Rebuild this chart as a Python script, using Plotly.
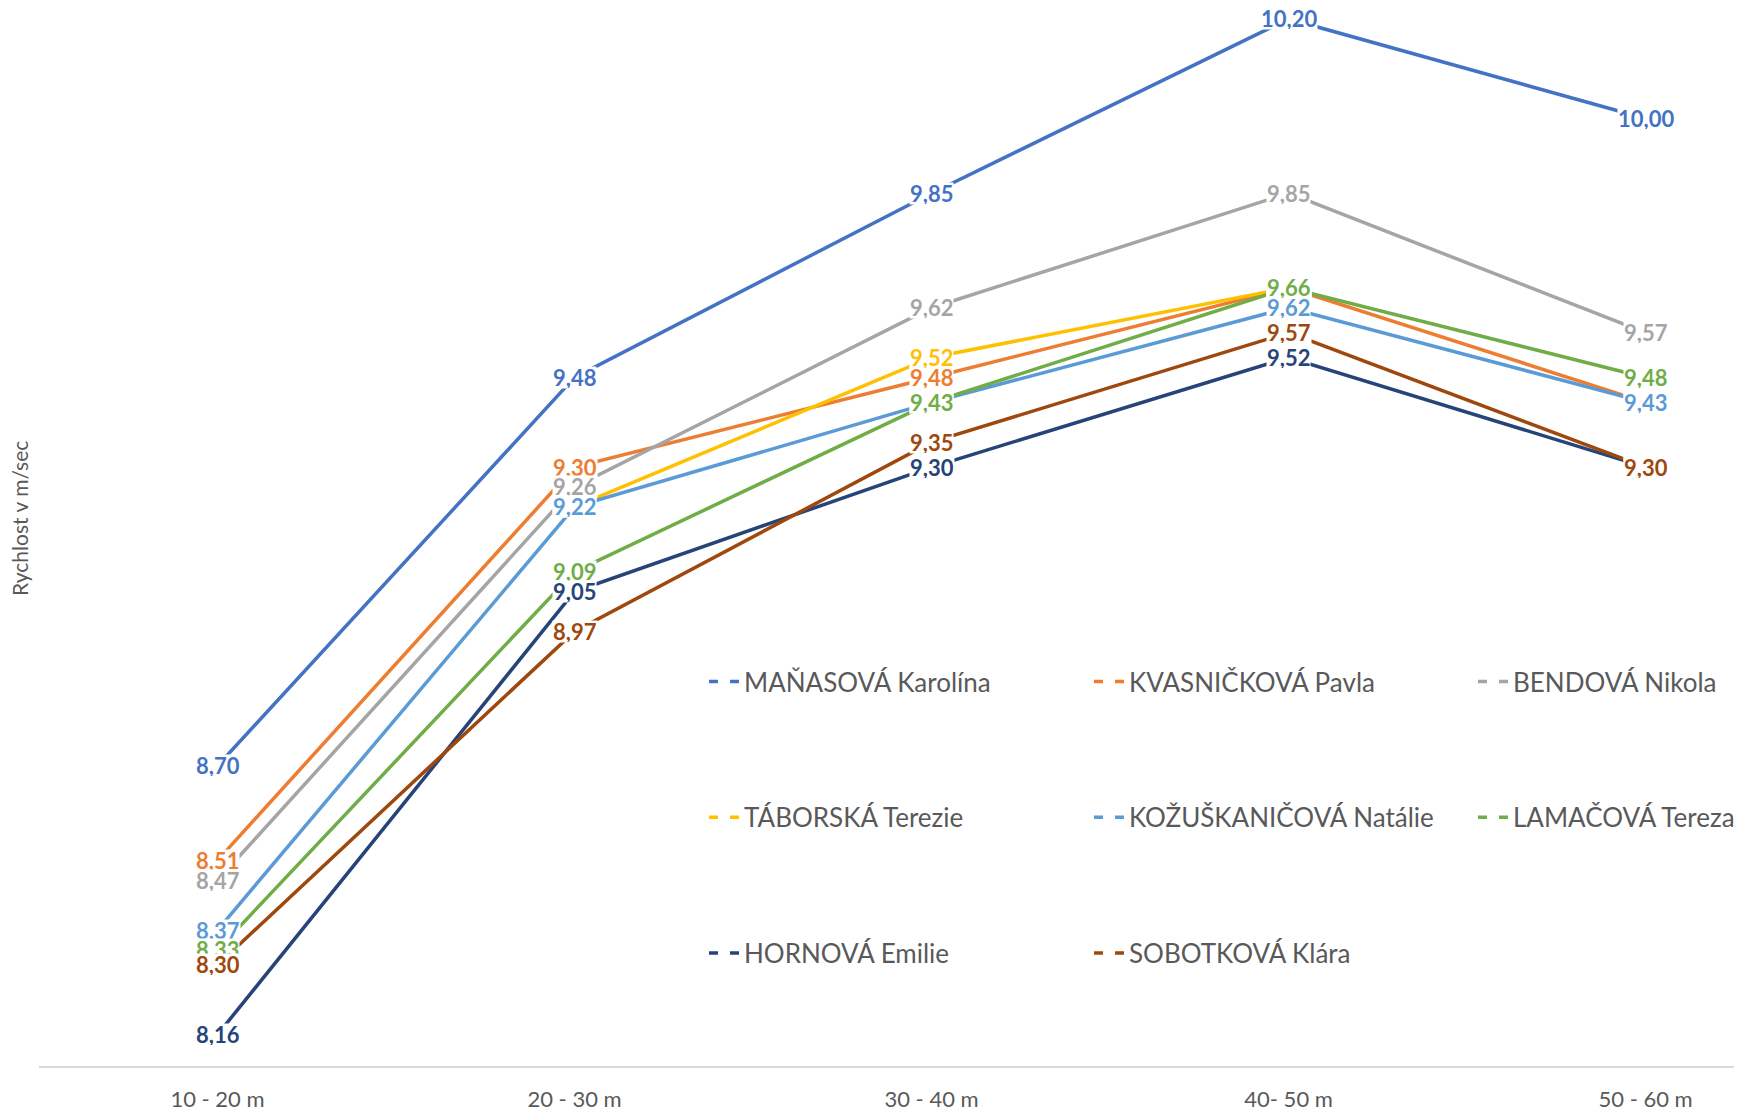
import plotly.graph_objects as go

categories = ["10 - 20 m", "20 - 30 m", "30 - 40 m", "40- 50 m", "50 - 60 m"]

names = [
    "MAŇASOVÁ Karolína",
    "KVASNIČKOVÁ Pavla",
    "BENDOVÁ Nikola",
    "TÁBORSKÁ Terezie",
    "KOŽUŠKANIČOVÁ Natálie",
    "LAMAČOVÁ Tereza",
    "HORNOVÁ Emilie",
    "SOBOTKOVÁ Klára",
]

manasova = [8.70, 9.48, 9.85, 10.20, 10.00]
kvasnickova = [8.51, 9.30, 9.48, 9.66, 9.43]
bendova = [8.47, 9.26, 9.62, 9.85, 9.57]
taborska = [None, 9.22, 9.52, 9.66, None]
kozuskanicova = [8.37, 9.22, 9.43, 9.62, 9.43]
lamacova = [8.33, 9.09, 9.43, 9.66, 9.48]
hornova = [8.16, 9.05, 9.30, 9.52, 9.30]
sobotkova = [8.30, 8.97, 9.35, 9.57, 9.30]

series = [manasova, kvasnickova, bendova, taborska, kozuskanicova, lamacova, hornova, sobotkova]
colors = ["#4472C4", "#ED7D31", "#A5A5A5", "#FFC000", "#5B9BD5", "#70AD47", "#264478", "#9E480E"]

FONT = "Lato"
# the page body adds an 8px margin, so the figure is sized/offset to compensate
W, H = 1734, 1105
ML, MR, MT, MB = 31, 0, 0, 47
pw = W - ML - MR
ph = H - MT - MB

fig = go.Figure()

for name, vals, col in zip(names, series, colors):
    fig.add_trace(go.Scatter(
        x=categories, y=vals, mode="lines", name=name,
        line=dict(color=col, width=3.5),
        connectgaps=False, showlegend=False, hoverinfo="skip",
    ))

# legend entries (dashed symbol as in the reference); one legend per column
legend_cols = ["legend", "legend2", "legend3", "legend", "legend2", "legend3", "legend", "legend2"]
for i, (name, col, lg) in enumerate(zip(names, colors, legend_cols)):
    fig.add_trace(go.Scatter(
        x=[None], y=[None], mode="lines", name=name,
        line=dict(color=col, width=3.5, dash="9px,12px"),
        showlegend=True, legend=lg, legendgroup=f"g{i}",
    ))

# data labels with white boxes, later series on top
annotations = []
for vals, col in zip(series, colors):
    for c, v in zip(categories, vals):
        if v is None:
            continue
        annotations.append(dict(
            x=c, y=v, xref="x", yref="y",
            text="<b>" + f"{v:.2f}".replace(".", ",") + "</b>",
            showarrow=False, bgcolor="white", borderpad=0, height=21,
            font=dict(family=FONT, size=22, color=col),
            xanchor="center", yanchor="middle",
        ))

annotations.append(dict(
    x=(12 - ML) / pw, y=(ph - 511) / ph, xref="paper", yref="paper",
    text="Rychlost v m/sec", textangle=-90, showarrow=False,
    font=dict(family=FONT, size=21, color="#595959"),
    xanchor="center", yanchor="middle",
))

legend_common = dict(
    orientation="v", xanchor="left", yanchor="top",
    font=dict(family=FONT, size=26, color="#595959"),
    bgcolor="rgba(0,0,0,0)", itemwidth=30,
    traceorder="grouped", tracegroupgap=99,
)
ly = (ph - 650) / ph

fig.update_layout(
    width=W, height=H,
    margin=dict(l=ML, r=MR, t=MT, b=MB, pad=0),
    paper_bgcolor="white", plot_bgcolor="white",
    font=dict(family=FONT, color="#595959"),
    showlegend=True,
    legend=dict(x=(696 - ML) / pw, y=ly, **legend_common),
    legend2=dict(x=(1081 - ML) / pw, y=ly, **legend_common),
    legend3=dict(x=(1465 - ML) / pw, y=ly, **legend_common),
    xaxis=dict(
        type="category", range=[-0.5, 4.27],
        showline=True, linecolor="#D9D9D9", linewidth=1.5,
        showgrid=False, zeroline=False, ticks="",
        tickfont=dict(family=FONT, size=22, color="#595959"),
        ticklabelstandoff=13,
    ),
    yaxis=dict(range=[8.097, 10.222], visible=False, showgrid=False, zeroline=False),
    annotations=annotations,
)

fig.write_html("out.html")
